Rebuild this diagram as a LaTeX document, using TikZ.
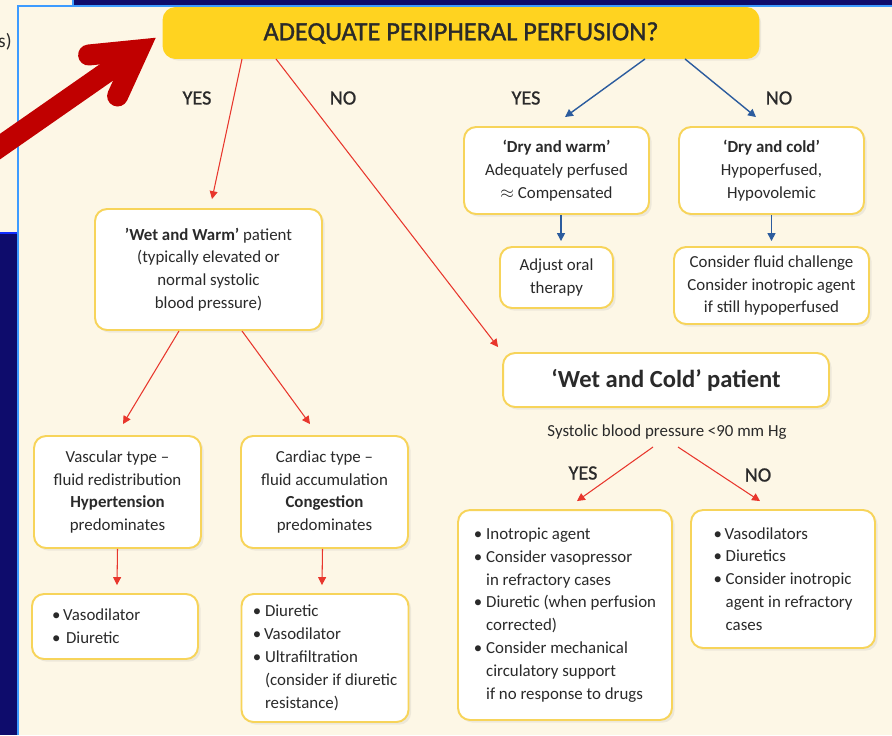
\documentclass[tikz,border=0pt]{standalone}
\usepackage{fontspec}
\setmainfont{Carlito}
\usepackage{xcolor}
\usepackage{tikz}
\usetikzlibrary{positioning, calc, arrows.meta, shadows}

\definecolor{cream}{HTML}{FDF7E6}
\definecolor{navy}{HTML}{0E0C6C}
\definecolor{edgeblue}{HTML}{3D9BFF}
\definecolor{gold}{HTML}{FFD320}
\definecolor{goldline}{HTML}{F7D45A}
\definecolor{arwred}{HTML}{E8362C}
\definecolor{arwblue}{HTML}{2C5C9E}
\definecolor{bigred}{HTML}{C00000}
\definecolor{ink}{HTML}{2A2A2A}

\begin{document}
\begin{tikzpicture}[
    x=0.02cm, y=-0.02cm,
    box/.style={draw=goldline, line width=1.1pt, fill=white, rounded corners=0.24cm,
                align=center, text=ink, font=\fontsize{9.6}{13}\selectfont, inner sep=2pt,
                drop shadow={shadow xshift=1.5pt, shadow yshift=-1.5pt, opacity=0.12}},
    lbl/.style={text=ink, font=\fontsize{11.5}{13}\selectfont\addfontfeatures{FakeBold=1}},
    rarw/.style={-{Triangle[length=4.5pt, width=4.5pt]}, draw=arwred, line width=0.6pt},
    barw/.style={-{Triangle[length=4.5pt, width=4.5pt]}, draw=arwblue, line width=0.8pt},
    bigarw/.style={draw=bigred, line width=0.42cm},
]
\useasboundingbox (0,0) rectangle (892,735);

% backdrop: slide, side window, main window
\fill[navy] (0,0) rectangle (892,735);
\fill[cream] (0,0) rectangle (73,233);
\draw[blue!70!edgeblue, line width=0.05cm] (0,233) -- (17,233);
\draw[edgeblue, line width=0.04cm] (73,0) -- (73,6);
\fill[cream] (18,6) rectangle (892,735);
\draw[edgeblue, line width=0.04cm] (18,735) -- (18,6) -- (892,6);
\node[text=ink, font=\fontsize{11}{13}\selectfont, anchor=east, inner sep=0] (cut) at (12,42) {s)};

% boxes
\node[box, fill=gold, draw=gold, minimum width=11.9cm, minimum height=1cm,
      font=\fontsize{15}{18}\selectfont\addfontfeatures{FakeBold=1.2}] (top) at (461,33)
    {ADEQUATE PERIPHERAL PERFUSION?};
\node[box, minimum width=3.7cm, minimum height=1.74cm] (dwarm) at (556.5,170.5)
    {\textbf{‘Dry and warm’}\\Adequately perfused\\$\approx$ Compensated};
\node[box, minimum width=3.7cm, minimum height=1.74cm] (dcold) at (771.5,170.5)
    {\textbf{‘Dry and cold’}\\Hypoperfused,\\Hypovolemic};
\node[box, minimum width=2.26cm, minimum height=1.22cm] (oral) at (556.5,277.5)
    {Adjust oral\\therapy};
\node[box, minimum width=3.9cm, minimum height=1.54cm] (fluid) at (771.5,285.5)
    {Consider fluid challenge\\Consider inotropic agent\\if still hypoperfused};
\node[box, minimum width=4.54cm, minimum height=2.42cm] (wwarm) at (208.5,269.5)
    {\textbf{’Wet and Warm’} patient\\(typically elevated or\\normal systolic\\blood pressure)};
\node[box, minimum width=6.52cm, minimum height=1.08cm,
      font=\fontsize{14}{16}\selectfont\bfseries] (wcold) at (666,380) {‘Wet and Cold’ patient};
\node[text=ink, font=\fontsize{9.6}{13}\selectfont] (sbp) at (667,432) {Systolic blood pressure <90 mm Hg};
\node[box, align=left, minimum width=4.28cm, minimum height=4.2cm] (treatL) at (565,615)
    {\textbullet~Inotropic agent\\
     \textbullet~Consider vasopressor\\
     \phantom{\textbullet~}in refractory cases\\
     \textbullet~Diuretic (when perfusion\\
     \phantom{\textbullet~}corrected)\\
     \textbullet~Consider mechanical\\
     \phantom{\textbullet~}circulatory support\\
     \phantom{\textbullet~}if no response to drugs};
\node[box, align=left, minimum width=3.68cm, minimum height=2.76cm] (treatR) at (783,579)
    {\textbullet\,Vasodilators\\
     \textbullet~Diuretics\\
     \textbullet~Consider inotropic\\
     \phantom{\textbullet~}agent in refractory\\
     \phantom{\textbullet~}cases};
\node[box, minimum width=3.34cm, minimum height=2.24cm] (vasc) at (117.5,492)
    {Vascular type --\\fluid redistribution\\\textbf{Hypertension}\\predominates};
\node[box, minimum width=3.34cm, minimum height=2.24cm] (card) at (324.5,492)
    {Cardiac type --\\fluid accumulation\\\textbf{Congestion}\\predominates};
\node[box, align=left, text width=2.52cm, minimum width=3.32cm, minimum height=1.3cm] (vasoL) at (115,626.5)
    {\textbullet\,Vasodilator\\\textbullet~Diuretic};
\node[box, align=left, minimum width=3.34cm, minimum height=2.56cm] (diurR) at (325,658)
    {\textbullet~Diuretic\\
     \textbullet\,Vasodilator\\
     \textbullet~Ultrafiltration\\
     \phantom{\textbullet~}(consider if diuretic\\
     \phantom{\textbullet~}resistance)};

% branch labels
\node[lbl] (yes1) at (197,98) {YES};
\node[lbl] (no1) at (343,98) {NO};
\node[lbl] (yes2) at (526,98) {YES};
\node[lbl] (no2) at (779,98) {NO};
\node[lbl] (yes3) at (583,473) {YES};
\node[lbl] (no3) at (758,475) {NO};

% connectors
\draw[rarw] ($(top.south)+(-219,0)$) -- ($(wwarm.north)+(3.5,-9)$);
\draw[rarw] ($(top.south)+(-185,0)$) -- ($(wcold.north west)+(-4,-5)$);
\draw[barw] ($(top.south)+(184,0)$) -- ($(dwarm.north)+(8.5,-9)$);
\draw[barw] ($(top.south)+(224,0)$) -- ($(dcold.north)+(-15.5,-9)$);
\draw[barw] ($(dwarm.south)+(4.5,0)$) -- ($(oral.north)+(4.5,-5)$);
\draw[barw] (dcold.south) -- ($(fluid.north)+(0,-5)$);
\draw[rarw] ($(wwarm.south)+(-29.5,0)$) -- ($(vasc.north)+(5.5,-11)$);
\draw[rarw] ($(wwarm.south)+(33.5,0)$) -- ($(card.north)+(-14.5,-11)$);
\draw[rarw] (vasc.south) -- ($(vasoL.north)+(2,-8)$);
\draw[rarw] ($(card.south)+(-2,0)$) -- ($(diurR.north)+(-3,-8)$);
\draw[rarw] ($(sbp.center)+(-14,15)$) -- ($(treatL.north)+(12,-8)$);
\draw[rarw] ($(sbp.center)+(11,15)$) -- ($(treatR.north)+(-23,-8)$);

% big pointer
\coordinate (ptr) at ($(top.west)+(-24,17)$);
\coordinate (tail) at (-25,164);
\draw[bigarw] (tail) -- (ptr);
\draw[bigarw, line cap=round, line join=miter] ($(ptr)+(-50,5)$) -- (ptr) -- ($(ptr)+(-21,46)$);
\end{tikzpicture}
\end{document}
